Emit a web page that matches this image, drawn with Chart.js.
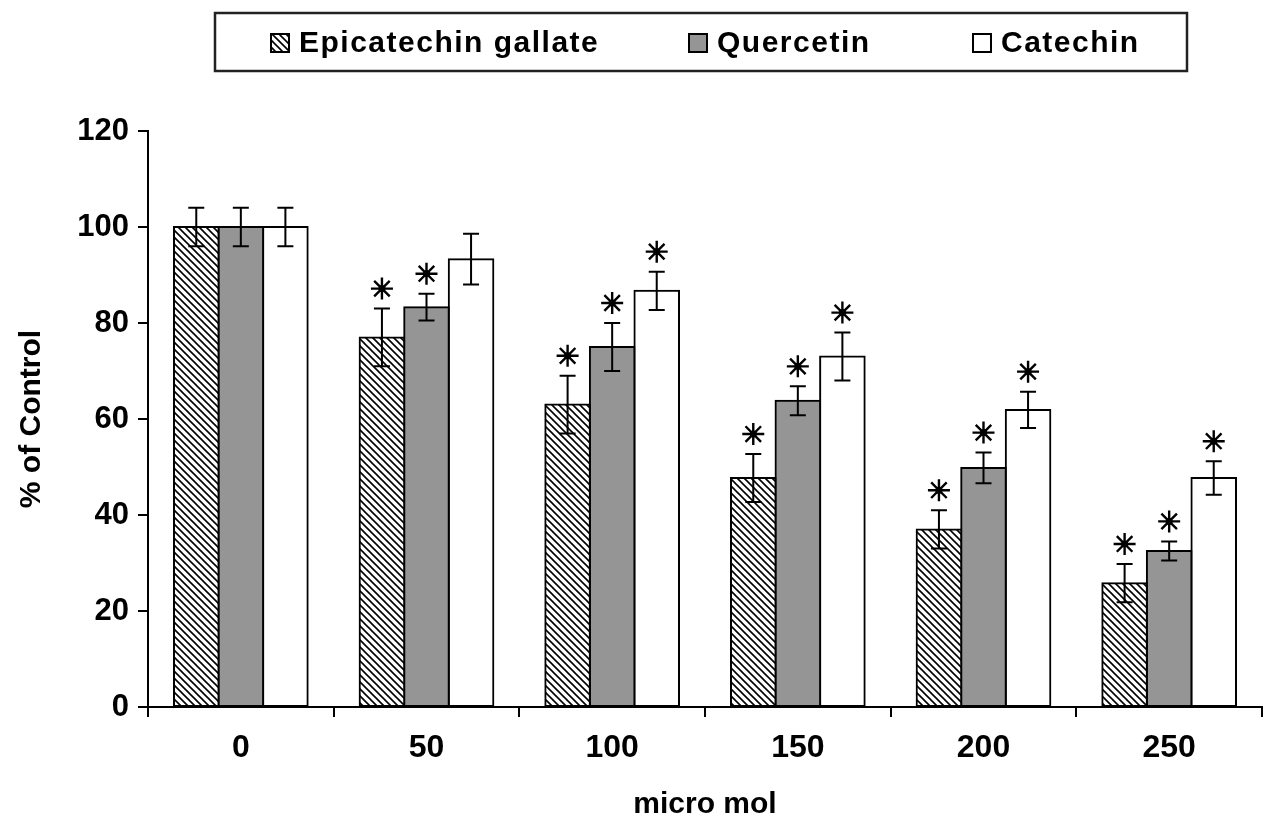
<!DOCTYPE html>
<html><head><meta charset="utf-8">
<script src="https://cdn.jsdelivr.net/npm/chart.js@4"></script>
<style>html,body{margin:0;padding:0;background:#fff;overflow:hidden}#wrap{width:1274px;height:823px}</style>
</head><body><div id="wrap"><canvas id="c" width="1274" height="823"></canvas></div>
<script>
// ---- data ----
const categories = ['0', '50', '100', '150', '200', '250'];
const seriesNames = ['Epicatechin gallate', 'Quercetin', 'Catechin'];
const ecgValues = [100, 77, 63, 47.7, 37, 25.8];
const ecgErrors = [4, 6, 6, 5, 4, 4];
const ecgSig = [false, true, true, true, true, true];
const quercetinValues = [100, 83.3, 75, 63.8, 49.8, 32.5];
const quercetinErrors = [4, 2.8, 5, 3, 3.2, 2];
const quercetinSig = [false, true, true, true, true, true];
const catechinValues = [100, 93.3, 86.7, 73, 61.9, 47.7];
const catechinErrors = [4, 5.3, 4, 5, 3.8, 3.5];
const catechinSig = [false, false, true, true, true, true];
const yTicks = [0, 20, 40, 60, 80, 100, 120];
const xTitle = 'micro mol';
const yTitle = '% of Control';

const FONT = '"Liberation Sans", Arial, Helvetica, sans-serif';

function hatchPattern() {
  const s = 7;
  const cv = document.createElement('canvas');
  cv.width = s; cv.height = s;
  const g = cv.getContext('2d');
  g.fillStyle = '#fff'; g.fillRect(0, 0, s, s);
  g.strokeStyle = '#000'; g.lineWidth = 1.6;
  g.beginPath();
  g.moveTo(-1, -1); g.lineTo(s + 1, s + 1);
  g.moveTo(-1, s - 1); g.lineTo(1, s + 1);
  g.moveTo(s - 1, -1); g.lineTo(s + 1, 1);
  g.stroke();
  return g.createPattern(cv, 'repeat');
}
const ctx = document.getElementById('c').getContext('2d');
const hatch = hatchPattern();

const errorsBySeries = [ecgErrors, quercetinErrors, catechinErrors];
const sigBySeries = [ecgSig, quercetinSig, catechinSig];

const errorBarPlugin = {
  id: 'errorBars',
  afterDatasetsDraw(chart) {
    const c = chart.ctx;
    const ys = chart.scales.y;
    c.save();
    c.strokeStyle = '#000';
    chart.data.datasets.forEach((ds, i) => {
      const meta = chart.getDatasetMeta(i);
      meta.data.forEach((el, j) => {
        const v = ds.data[j], e = errorsBySeries[i][j];
        const yt = ys.getPixelForValue(v + e);
        const yb = ys.getPixelForValue(v - e);
        const x = el.x, cap = 8;
        c.lineWidth = 2;
        c.beginPath();
        c.moveTo(x, yt); c.lineTo(x, yb);
        c.moveTo(x - cap, yt); c.lineTo(x + cap, yt);
        c.moveTo(x - cap, yb); c.lineTo(x + cap, yb);
        c.stroke();
        if (sigBySeries[i][j]) {
          const cy = yt - 20, r = 11;
          c.lineWidth = 2.4;
          c.beginPath();
          for (let k = 0; k < 4; k++) {
            const a = k * Math.PI / 4;
            c.moveTo(x - r * Math.cos(a), cy - r * Math.sin(a));
            c.lineTo(x + r * Math.cos(a), cy + r * Math.sin(a));
          }
          c.stroke();
          c.beginPath(); c.fillStyle = '#000';
          c.arc(x, cy, 3.5, 0, Math.PI * 2); c.fill();
        }
      });
    });
    c.restore();
  }
};

const legendPlugin = {
  id: 'boxLegend',
  afterDraw(chart, args, opts) {
    const c = chart.ctx;
    c.save();
    c.strokeStyle = '#222';
    c.lineWidth = 2.5;
    c.strokeRect(opts.box[0], opts.box[1], opts.box[2], opts.box[3]);
    c.font = 'bold 30px ' + FONT;
    c.letterSpacing = '1.5px';
    c.textBaseline = 'middle';
    chart.data.datasets.forEach((ds, i) => {
      const x = opts.itemX[i], cy = opts.cy;
      c.fillStyle = ds.backgroundColor;
      c.fillRect(x, cy - 10, 20, 20);
      c.strokeStyle = '#000'; c.lineWidth = 2;
      c.strokeRect(x + 1, cy - 9, 18, 18);
      c.fillStyle = '#000';
      c.fillText(ds.label, x + 29, cy + 1);
    });
    c.restore();
  }
};

new Chart(ctx, {
  type: 'bar',
  data: {
    labels: categories,
    datasets: [
      { label: seriesNames[0], data: ecgValues, backgroundColor: hatch },
      { label: seriesNames[1], data: quercetinValues, backgroundColor: '#959595' },
      { label: seriesNames[2], data: catechinValues, backgroundColor: '#ffffff' }
    ].map(d => Object.assign(d, { borderColor: '#000', borderWidth: 2, borderSkipped: false, inflateAmount: 1, categoryPercentage: 0.72, barPercentage: 1.0 }))
  },
  options: {
    responsive: false,
    devicePixelRatio: 1,
    animation: false,
    layout: { padding: { top: 131, right: 12, bottom: 0, left: 0 } },
    plugins: {
      legend: { display: false },
      tooltip: { enabled: false },
      boxLegend: { box: [215, 13, 972, 58], itemX: [270, 688, 972], cy: 43 }
    },
    scales: {
      x: {
        offset: true,
        grid: { display: true, drawOnChartArea: false, color: '#000', lineWidth: 2, tickLength: 10, offset: true },
        border: { display: true, color: '#000', width: 2 },
        ticks: { color: '#000', font: { family: FONT, size: 32, weight: 'bold' }, padding: 12 },
        title: { display: true, text: xTitle, color: '#000', font: { family: FONT, size: 30, weight: 'bold' }, padding: { top: 0, bottom: 0 } },
        afterFit(s) { s.height = 116; }
      },
      y: {
        min: 0, max: 120,
        afterBuildTicks(s) { s.ticks = yTicks.map(v => ({ value: v })); },
        grid: { display: true, drawOnChartArea: false, color: '#000', lineWidth: 2, tickLength: 10 },
        border: { display: true, color: '#000', width: 2 },
        ticks: { color: '#000', font: { family: FONT, size: 31, weight: 'bold' }, padding: 9 },
        title: { display: true, text: yTitle, color: '#000', font: { family: FONT, size: 30, weight: 'bold' }, padding: { top: 14, bottom: 0 } },
        afterFit(s) { s.width = 148; }
      }
    }
  },
  plugins: [errorBarPlugin, legendPlugin]
});
</script>
</body></html>
